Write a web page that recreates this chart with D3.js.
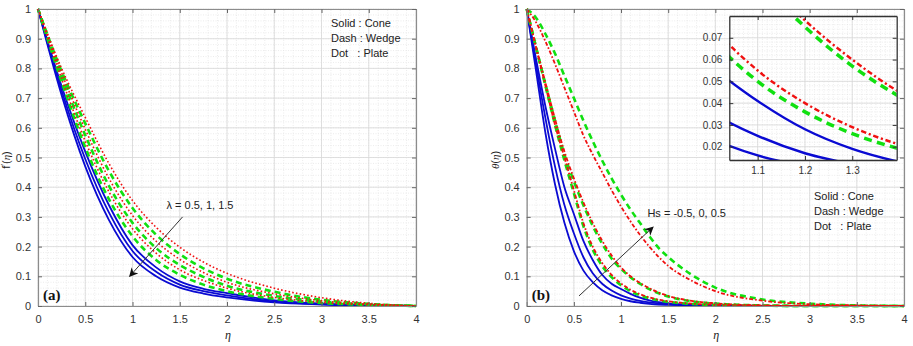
<!DOCTYPE html>
<html>
<head>
<meta charset="utf-8">
<script src="https://cdn.jsdelivr.net/npm/d3@7"></script>
<style>
  body { margin: 0; background: #fff; }
  text { font-family: "Liberation Sans", "DejaVu Sans", sans-serif; }
</style>
</head>
<body>
<div id="chart"></div>
<script>
// ---- data ----
var etaA = [0, 0.25, 0.5, 0.75, 1, 1.25, 1.5, 1.75, 2, 2.5, 3, 3.5, 4];
// panel (a): f'(eta), three lambda values per geometry
var coneA1 = [1, 0.71, 0.47, 0.29, 0.165, 0.10, 0.062, 0.042, 0.029, 0.012, 0.005, 0.001, 0];
var coneA2 = [1, 0.725, 0.495, 0.315, 0.185, 0.115, 0.072, 0.05, 0.036, 0.015, 0.006, 0.002, 0];
var coneA3 = [1, 0.74, 0.52, 0.34, 0.205, 0.13, 0.083, 0.058, 0.043, 0.019, 0.008, 0.003, 0];
var wedgeA1 = [1, 0.755, 0.535, 0.36, 0.235, 0.155, 0.105, 0.072, 0.05, 0.024, 0.01, 0.004, 0];
var wedgeA2 = [1, 0.775, 0.575, 0.405, 0.28, 0.195, 0.138, 0.098, 0.068, 0.034, 0.015, 0.005, 0];
var wedgeA3 = [1, 0.79, 0.615, 0.455, 0.33, 0.24, 0.175, 0.127, 0.092, 0.048, 0.021, 0.007, 0];
var plateA1 = [1, 0.765, 0.555, 0.385, 0.26, 0.178, 0.122, 0.086, 0.06, 0.029, 0.012, 0.004, 0];
var plateA2 = [1, 0.785, 0.595, 0.43, 0.305, 0.218, 0.157, 0.113, 0.08, 0.041, 0.018, 0.006, 0];
var plateA3 = [1, 0.80, 0.635, 0.48, 0.355, 0.265, 0.198, 0.148, 0.11, 0.06, 0.028, 0.009, 0];

var etaB = [0, 0.1, 0.2, 0.3, 0.4, 0.5, 0.6, 0.7, 0.8, 0.9, 1.0, 1.1, 1.2, 1.3, 1.4, 1.5, 1.75, 2, 2.5, 3, 3.5, 4];
// panel (b): theta(eta), three Hs values per geometry
var coneB1 = [1, 0.79, 0.58, 0.41, 0.28, 0.185, 0.12, 0.08, 0.053, 0.036, 0.024, 0.016, 0.011, 0.0075, 0.005, 0.004, 0.002, 0.001, 0, 0, 0, 0];
var coneB2 = [1, 0.81, 0.63, 0.47, 0.34, 0.245, 0.165, 0.11, 0.075, 0.052, 0.036, 0.025, 0.017, 0.012, 0.0085, 0.006, 0.003, 0.001, 0, 0, 0, 0];
var coneB3 = [1, 0.83, 0.67, 0.53, 0.40, 0.31, 0.22, 0.155, 0.105, 0.075, 0.057, 0.041, 0.028, 0.019, 0.013, 0.009, 0.004, 0.002, 0, 0, 0, 0];
var wedgeB1 = [1, 0.87, 0.74, 0.61, 0.49, 0.38, 0.27, 0.19, 0.135, 0.097, 0.07, 0.05, 0.036, 0.026, 0.019, 0.014, 0.007, 0.003, 0.001, 0, 0, 0];
var wedgeB2 = [1, 0.87, 0.745, 0.625, 0.51, 0.42, 0.34, 0.27, 0.21, 0.16, 0.125, 0.097, 0.075, 0.057, 0.043, 0.032, 0.016, 0.008, 0.002, 0, 0, 0];
var wedgeB3 = [1, 0.97, 0.915, 0.85, 0.775, 0.70, 0.625, 0.555, 0.49, 0.43, 0.375, 0.325, 0.28, 0.235, 0.195, 0.165, 0.105, 0.062, 0.022, 0.008, 0.002, 0];
var plateB1 = [1, 0.87, 0.74, 0.61, 0.50, 0.39, 0.28, 0.20, 0.145, 0.105, 0.076, 0.055, 0.04, 0.029, 0.021, 0.016, 0.008, 0.004, 0.001, 0, 0, 0];
var plateB2 = [1, 0.87, 0.75, 0.63, 0.52, 0.43, 0.35, 0.28, 0.22, 0.17, 0.13, 0.10, 0.078, 0.06, 0.045, 0.034, 0.017, 0.009, 0.002, 0, 0, 0];
var plateB3 = [1, 0.955, 0.89, 0.815, 0.735, 0.655, 0.575, 0.51, 0.45, 0.39, 0.335, 0.285, 0.24, 0.2, 0.165, 0.135, 0.085, 0.05, 0.018, 0.006, 0.002, 0];

var xTicks = [0, 0.5, 1, 1.5, 2, 2.5, 3, 3.5, 4];
var yTicks = [0, 0.1, 0.2, 0.3, 0.4, 0.5, 0.6, 0.7, 0.8, 0.9, 1];
var insetXTicks = [1.1, 1.2, 1.3];
var insetYTicks = [0.02, 0.03, 0.04, 0.05, 0.06, 0.07];
var legendLines = ["Solid : Cone", "Dash : Wedge", "Dot   : Plate"];

var W = 913, H = 346;
var svg = d3.select("#chart").append("svg").attr("width", W).attr("height", H);
var fmt = d3.format("~g");

var styles = {
  cone:  {stroke: "#0a0ad2", width: 1.8, dash: null},
  wedge: {stroke: "#10e010", width: 2.6, dash: "6,4"},
  plateA: {stroke: "#f01010", width: 1.6, dash: "1.6,2.2"},
  plateB: {stroke: "#f01010", width: 1.8, dash: "4,2,1.6,2"}
};

function drawGrid(g, x, y, xMinor, yMinor, xMajor, yMajor) {
  g.selectAll(".minx").data(xMinor).enter().append("line")
    .attr("x1", function(d){ return x(d); }).attr("x2", function(d){ return x(d); })
    .attr("y1", y.range()[0]).attr("y2", y.range()[1])
    .attr("stroke", "#e4e4e4").attr("stroke-width", 0.7).attr("stroke-dasharray", "1,1.5");
  g.selectAll(".miny").data(yMinor).enter().append("line")
    .attr("y1", function(d){ return y(d); }).attr("y2", function(d){ return y(d); })
    .attr("x1", x.range()[0]).attr("x2", x.range()[1])
    .attr("stroke", "#e4e4e4").attr("stroke-width", 0.7).attr("stroke-dasharray", "1,1.5");
  g.selectAll(".majx").data(xMajor).enter().append("line")
    .attr("x1", function(d){ return x(d); }).attr("x2", function(d){ return x(d); })
    .attr("y1", y.range()[0]).attr("y2", y.range()[1])
    .attr("stroke", "#d8d8d8").attr("stroke-width", 0.8);
  g.selectAll(".majy").data(yMajor).enter().append("line")
    .attr("y1", function(d){ return y(d); }).attr("y2", function(d){ return y(d); })
    .attr("x1", x.range()[0]).attr("x2", x.range()[1])
    .attr("stroke", "#d8d8d8").attr("stroke-width", 0.8);
}

function range(a, b, step) {
  var out = [];
  var n = Math.round((b - a) / step);
  for (var i = 0; i <= n; i++) out.push(+(a + i * step).toFixed(4));
  return out;
}

function drawAxes(x, y, fs, labels) {
  var g = svg.append("g");
  g.append("g").attr("transform", "translate(0," + y.range()[0] + ")")
    .call(d3.axisBottom(x).tickValues(labels ? xTicks : insetXTicks).tickFormat(fmt).tickSizeInner(-4).tickSizeOuter(0).tickPadding(labels ? 9 : 7));
  g.append("g").attr("transform", "translate(" + x.range()[0] + ",0)")
    .call(d3.axisLeft(y).tickValues(labels ? yTicks : insetYTicks).tickFormat(fmt).tickSizeInner(-4).tickSizeOuter(0).tickPadding(7));
  g.append("g").attr("transform", "translate(0," + y.range()[1] + ")")
    .call(d3.axisTop(x).tickValues(labels ? xTicks : insetXTicks).tickFormat("").tickSizeInner(-4).tickSizeOuter(0));
  g.append("g").attr("transform", "translate(" + x.range()[1] + ",0)")
    .call(d3.axisRight(y).tickValues(labels ? yTicks : insetYTicks).tickFormat("").tickSizeInner(-4).tickSizeOuter(0));
  var col = labels ? "#8c8c8c" : "#333";
  g.selectAll(".domain").attr("stroke", col).attr("stroke-width", labels ? 1.2 : 1.3);
  g.selectAll(".tick line").attr("stroke", labels ? "#666" : "#333");
  g.selectAll(".tick text").attr("fill", "#333").style("font-size", fs + "px")
    .style("font-family", "Liberation Sans, sans-serif");
  return g;
}

function drawSeries(g, x, y, eta, series, clipId, scale) {
  var line = d3.line()
    .x(function(d, i){ return x(eta[i]); })
    .y(function(d){ return y(d); })
    .curve(d3.curveMonotoneX);
  var lg = g.append("g");
  if (clipId) lg.attr("clip-path", "url(#" + clipId + ")");
  series.forEach(function(s) {
    var st = styles[s.style];
    lg.append("path")
      .attr("d", line(s.values))
      .attr("fill", "none")
      .attr("stroke", st.stroke)
      .attr("stroke-width", st.width * (scale || 1))
      .attr("stroke-dasharray", st.dash ? st.dash.split(",").map(function(v){ return +v * (scale || 1); }).join(",") : null);
  });
}

function panel(x0, x1, eta, series, tag, ylabel, legendX, legendY, note, arrow) {
  var x = d3.scaleLinear().domain([0, 4]).range([x0, x1]);
  var y = d3.scaleLinear().domain([0, 1]).range([306, 9]);
  var g = svg.append("g");
  drawGrid(g, x, y, range(0, 4, 0.1), range(0, 1, 0.02), xTicks, yTicks);
  drawSeries(g, x, y, eta, series, null, 1);
  drawAxes(x, y, 11, true);

  // legend
  var lt = svg.append("g");
  legendLines.forEach(function(s, i) {
    lt.append("text").attr("x", legendX).attr("y", legendY + i * 15)
      .attr("fill", "#222").style("font-size", "11px").style("white-space", "pre").text(s);
  });

  // parameter note and arrow
  svg.append("text").attr("x", x(note.eta)).attr("y", y(note.v))
    .attr("fill", "#222").style("font-size", "11px").text(note.text);
  svg.append("line")
    .attr("x1", x(arrow[0])).attr("y1", y(arrow[1]))
    .attr("x2", x(arrow[2])).attr("y2", y(arrow[3]))
    .attr("stroke", "#333").attr("stroke-width", 1)
    .attr("marker-end", "url(#arrowhead)");

  // panel tag
  svg.append("text").attr("x", x0 + 5).attr("y", 300)
    .style("font-family", "Liberation Serif, serif").style("font-weight", "bold")
    .style("font-size", "15px").attr("fill", "#111").text(tag);

  // axis titles
  svg.append("text").attr("x", (x0 + x1) / 2 + 1).attr("y", 339).attr("text-anchor", "middle")
    .style("font-family", "Liberation Serif, serif").style("font-style", "italic")
    .style("font-size", "12px").attr("fill", "#222").text("\u03b7");
  svg.append("text").attr("transform", "translate(" + (x0 - 28) + ",160) rotate(-90)")
    .attr("text-anchor", "middle").style("font-size", "11px").attr("fill", "#222")
    .html(ylabel);
  return {x: x, y: y};
}

var defs = svg.append("defs");
defs.append("marker").attr("id", "arrowhead").attr("viewBox", "0 0 10 10")
  .attr("refX", 9).attr("refY", 5).attr("markerWidth", 9).attr("markerHeight", 9)
  .attr("markerUnits", "userSpaceOnUse").attr("orient", "auto")
  .append("path").attr("d", "M0,0 L10,5 L0,10 L3,5 Z").attr("fill", "#111");

var seriesA = [
  {values: coneA1, style: "cone"}, {values: coneA2, style: "cone"}, {values: coneA3, style: "cone"},
  {values: wedgeA1, style: "wedge"}, {values: wedgeA2, style: "wedge"}, {values: wedgeA3, style: "wedge"},
  {values: plateA1, style: "plateA"}, {values: plateA2, style: "plateA"}, {values: plateA3, style: "plateA"}
];
var seriesB = [
  {values: coneB1, style: "cone"}, {values: coneB2, style: "cone"}, {values: coneB3, style: "cone"},
  {values: wedgeB1, style: "wedge"}, {values: wedgeB2, style: "wedge"}, {values: wedgeB3, style: "wedge"},
  {values: plateB1, style: "plateB"}, {values: plateB2, style: "plateB"}, {values: plateB3, style: "plateB"}
];

panel(38, 416, etaA, seriesA, "(a)",
  "f<tspan font-size='9' dy='-3'>\u2032</tspan><tspan dy='3'>(</tspan><tspan font-family='Liberation Serif' font-style='italic'>\u03b7</tspan>)",
  331, 27, {eta: 1.36, v: 0.325, text: "\u03bb = 0.5, 1, 1.5"}, [1.53, 0.30, 0.97, 0.10]);

panel(526.7, 904, etaB, seriesB, "(b)",
  "<tspan font-family='Liberation Serif' font-style='italic'>\u03b8</tspan>(<tspan font-family='Liberation Serif' font-style='italic'>\u03b7</tspan>)",
  814, 200, {eta: 1.28, v: 0.30, text: "Hs = -0.5, 0, 0.5"}, [0.555, 0.034, 1.34, 0.266]);

// ---- inset zoom of panel (b) ----
var ix = d3.scaleLinear().domain([1.04, 1.394]).range([729.3, 896.7]);
var iy = d3.scaleLinear().domain([0.0139, 0.08]).range([160, 16]);
defs.append("clipPath").attr("id", "insetClip").append("rect")
  .attr("x", 729.3).attr("y", 16).attr("width", 896.7 - 729.3).attr("height", 144);
var ig = svg.append("g");
ig.append("rect").attr("x", 729.3).attr("y", 16).attr("width", 896.7 - 729.3).attr("height", 144).attr("fill", "#fff");
drawGrid(ig, ix, iy, range(1.05, 1.39, 0.01), range(0.014, 0.08, 0.002), insetXTicks, insetYTicks);
drawSeries(ig, ix, iy, etaB, seriesB, "insetClip", 1.35);
drawAxes(ix, iy, 10, false);
</script>
</body>
</html>
